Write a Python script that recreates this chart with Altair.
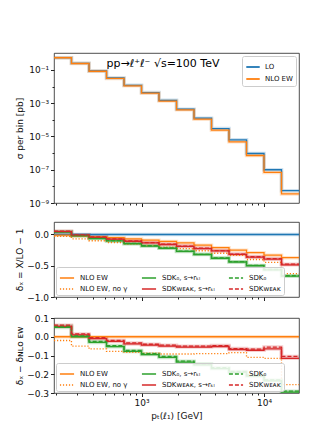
import altair as alt
import pandas as pd

# bin edges (GeV) of the pT(l1) histogram
edges = [193, 268, 373, 518, 720, 1000, 1389, 1931, 2683, 3728, 5179, 7197, 10000, 13895, 19307]

# cross section per bin [pb]
lo_xsec = [0.55, 0.25, 0.087, 0.033, 0.012, 4.4e-3, 1.5e-3, 4.4e-4, 1.26e-4, 3.0e-5, 6.3e-6, 9.5e-7, 1.0e-7, 5.5e-9]
nlo_xsec = [0.545, 0.245, 0.084, 0.031, 0.0112, 4.0e-3, 1.34e-3, 4.0e-4, 1.1e-4, 2.4e-5, 4.8e-6, 7.2e-7, 6.9e-8, 3.5e-9]

# relative NLO EW correction  delta_NLO = NLO/LO - 1
delta_nlo = [-0.01, -0.02, -0.035, -0.05, -0.07, -0.09, -0.11, -0.135, -0.17, -0.21, -0.25, -0.29, -0.33, -0.37]

# differences delta_X - delta_NLO EW
diff_nlo_nogamma = [-0.02, -0.05, -0.065, -0.078, -0.083, -0.088, -0.092, -0.092, -0.09, -0.09, -0.085, -0.11, -0.115, -0.255]
diff_sdk0_rkl = [0.05, 0.0, -0.03, -0.053, -0.078, -0.095, -0.11, -0.135, -0.15, -0.17, -0.19, -0.21, -0.235, -0.295]
diff_sdkweak_rkl = [0.055, 0.01, -0.01, -0.025, -0.038, -0.045, -0.05, -0.055, -0.055, -0.052, -0.068, -0.072, -0.065, -0.115]
diff_sdk0 = [0.057, 0.005, -0.025, -0.048, -0.073, -0.09, -0.105, -0.13, -0.147, -0.165, -0.185, -0.205, -0.23, -0.29]
diff_sdkweak = [0.062, 0.015, -0.005, -0.02, -0.033, -0.04, -0.045, -0.05, -0.05, -0.047, -0.063, -0.066, -0.055, -0.105]

zero_line = [0.0] * 14

S_NLO = "NLO EW"
S_NOG = "NLO EW, no γ"
S_K0R = "SDK₀, s→rₖₗ"
S_KWR = "SDKᴡᴇᴀᴋ, s→rₖₗ"
S_K0 = "SDK₀"
S_KW = "SDKᴡᴇᴀᴋ"

# legend is filled column by column
series_order = [S_NLO, S_NOG, S_K0R, S_KWR, S_K0, S_KW]
series_colors = ["#ff7f0e", "#ff7f0e", "#2ca02c", "#d62728", "#2ca02c", "#d62728"]
series_dashes = [[1, 0], [1.2, 1.8], [1, 0], [1, 0], [4, 2], [4, 2]]
color_of = dict(zip(series_order, series_colors))

BLUE = "#1f77b4"
ORANGE = "#ff7f0e"

x_ticks = [200, 300, 400, 500, 600, 700, 800, 900, 1000, 2000, 3000, 4000, 5000,
           6000, 7000, 8000, 9000, 10000]
y_top_ticks = [1e-9, 1e-8, 1e-7, 1e-6, 1e-5, 1e-4, 1e-3, 1e-2, 1e-1]


def step_rows(name, values):
    rows = [{"series": name, "x": edges[i], "y": v} for i, v in enumerate(values)]
    rows.append({"series": name, "x": edges[-1], "y": values[-1]})
    return rows


W = 245
XDOM = [193, 19307]
TITLE_X = -35
MAJOR_X = {"condition": {"test": "datum.value == 1000 || datum.value == 10000", "value": 3.5}, "value": 2}


def x_enc(show_labels):
    if show_labels:
        ax = alt.Axis(values=x_ticks, title="pₜ(ℓ₁) [GeV]", labelExpr=(
            "datum.value == 1000 ? '10³' : datum.value == 10000 ? '10⁴' : ''"),
            tickSize=MAJOR_X, labelOverlap=False, labelPadding=2, titlePadding=4)
    else:
        ax = alt.Axis(values=x_ticks, title=None, labels=False, tickSize=MAJOR_X)
    return alt.X("x:Q", scale=alt.Scale(type="log", domain=XDOM, nice=False), axis=ax)


def band_layer(rows, color, x, y):
    return alt.Chart(pd.DataFrame(rows)).mark_line(
        interpolate="step-after", strokeWidth=3.5, opacity=0.22, color=color, clip=True).encode(x=x, y=y)


# ---------------- top panel ----------------
top_df = pd.DataFrame(step_rows("LO", lo_xsec) + step_rows("NLO EW", nlo_xsec))
top_x = x_enc(False)
top_y = alt.Y("y:Q", scale=alt.Scale(type="log", domain=[1e-9, 1.05], nice=False),
              axis=alt.Axis(values=y_top_ticks, title="σ per bin [pb]", titleX=TITLE_X,
                            titleBaseline="middle",
                            labelExpr="['10⁻⁹','','10⁻⁷','','10⁻⁵','','10⁻³','','10⁻¹'][round(log(datum.value)/LN10)+9]",
                            tickSize={"condition": {"test": "abs(round(log(datum.value)/LN10)) % 2 == 1",
                                                    "value": 3.5}, "value": 2}))
top_main = alt.Chart(top_df).mark_line(
    interpolate="step-after", strokeWidth=1.3, clip=True).encode(
    x=top_x, y=top_y,
    color=alt.Color("series:N", scale=alt.Scale(domain=["LO", "NLO EW"], range=[BLUE, ORANGE]),
                    legend=alt.Legend(title=None, orient="top-right", offset=3,
                                      symbolType="stroke", symbolSize=180, symbolStrokeWidth=1.8,
                                      labelFontSize=7, fillColor="rgba(255,255,255,0.85)",
                                      strokeColor="#ccc", padding=3, cornerRadius=2,
                                      rowPadding=0, labelOffset=4)))
top_text = alt.Chart(pd.DataFrame({"t": ["pp→ℓ⁺ℓ⁻   √s=100 TeV"]})).mark_text(
    fontSize=11, align="center", baseline="middle", color="black").encode(
    text="t:N", x=alt.value(109), y=alt.value(11))
top = alt.layer(
    band_layer(step_rows("LO", lo_xsec), BLUE, top_x, top_y),
    band_layer(step_rows("NLO EW", nlo_xsec), ORANGE, top_x, top_y),
    top_main, top_text
).properties(width=W, height=150)


# ---------------- ratio panels ----------------
def ratio_panel(values_by_series, baseline_rows, ydom, yvals, ytitle, show_x, height):
    rows = []
    for name, vals in values_by_series:
        rows += step_rows(name, vals)
    df = pd.DataFrame(rows)
    yax = alt.Axis(values=yvals, title=ytitle, format=".1f", titleX=TITLE_X, titleBaseline="middle",
                   labelExpr="replace(datum.label, '-', '−')", tickSize=3.5)
    y = alt.Y("y:Q", scale=alt.Scale(domain=ydom, nice=False, zero=False), axis=yax)
    x = x_enc(show_x)
    layers = []
    for name, vals in values_by_series:
        if name != S_NOG:
            layers.append(band_layer(step_rows(name, vals), color_of[name], x, y))
    if baseline_rows is not None:
        layers.append(band_layer(baseline_rows, BLUE, x, y))
        layers.append(alt.Chart(pd.DataFrame(baseline_rows)).mark_line(
            interpolate="step-after", strokeWidth=1.3, color=BLUE, clip=True).encode(x=x, y=y))
    leg = alt.Legend(title=None, orient="bottom-left", offset=2, columns=3,
                     symbolType="stroke", symbolSize=200, symbolStrokeWidth=1.5,
                     labelFontSize=7, fillColor="rgba(255,255,255,0.85)", strokeColor="#ccc",
                     padding=3, cornerRadius=2, columnPadding=10, rowPadding=0, labelOffset=5)
    main = alt.Chart(df).mark_line(
        interpolate="step-after", strokeWidth=1.3, clip=True).encode(
        x=x, y=y,
        color=alt.Color("series:N", scale=alt.Scale(domain=series_order, range=series_colors), legend=leg),
        strokeDash=alt.StrokeDash("series:N", scale=alt.Scale(domain=series_order, range=series_dashes),
                                  legend=leg))
    layers.append(main)
    return alt.layer(*layers).properties(width=W, height=height)


mid_series = [
    (S_NLO, delta_nlo),
    (S_NOG, [a + b for a, b in zip(delta_nlo, diff_nlo_nogamma)]),
    (S_K0R, [a + b for a, b in zip(delta_nlo, diff_sdk0_rkl)]),
    (S_KWR, [a + b for a, b in zip(delta_nlo, diff_sdkweak_rkl)]),
    (S_K0, [a + b for a, b in zip(delta_nlo, diff_sdk0)]),
    (S_KW, [a + b for a, b in zip(delta_nlo, diff_sdkweak)]),
]
bot_series = [
    (S_NLO, zero_line),
    (S_NOG, diff_nlo_nogamma),
    (S_K0R, diff_sdk0_rkl),
    (S_KWR, diff_sdkweak_rkl),
    (S_K0, diff_sdk0),
    (S_KW, diff_sdkweak),
]

mid = ratio_panel(mid_series, step_rows("LO", zero_line), [-1.0, 0.2], [-1.0, -0.5, 0.0],
                  "δₓ = X/LO − 1", False, 75)
bot = ratio_panel(bot_series, None, [-0.3, 0.1], [-0.3, -0.2, -0.1, 0.0, 0.1],
                  "δₓ − δɴʟᴏ ᴇᴡ", True, 75)

lower = alt.vconcat(mid, bot, spacing=10).resolve_scale(
    color="independent", strokeDash="independent", y="independent")

chart = alt.vconcat(top, lower, spacing=12).resolve_scale(
    color="independent", strokeDash="independent", y="independent"
).properties(
    padding={"left": 6, "top": 44, "right": 6, "bottom": 4}
).configure(font="DejaVu Sans").configure_view(
    stroke="#222", strokeWidth=0.8
).configure_axis(
    domain=False, grid=False, labelFontSize=9, titleFontSize=9, titleFontWeight="normal",
    labelColor="#111", titleColor="#111", tickColor="#222", labelFont="DejaVu Sans",
    titleFont="DejaVu Sans"
).configure_legend(labelFont="DejaVu Sans", labelColor="#111")

chart.save("out.html", embed_options={"renderer": "svg", "actions": False})
